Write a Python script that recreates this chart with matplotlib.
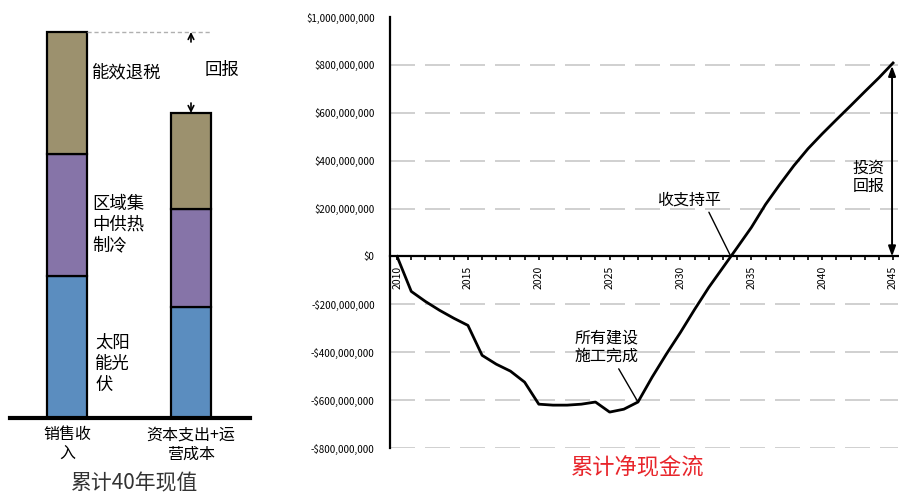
import matplotlib
matplotlib.use("Agg")
import matplotlib.pyplot as plt
from matplotlib.ticker import FuncFormatter, MultipleLocator
import numpy as np

plt.rcParams['font.family'] = ['Noto Sans CJK SC', 'DejaVu Sans']

# left panel: cumulative 40-year present value (relative units)
bar_names = ["销售收\n入", "资本支出+运\n营成本"]
solar = [142, 111]
district = [122, 98]
rebate = [122, 96]
seg_colors = ['#5B8DBF', '#8674A8', '#9C916E']

# right panel: cumulative net cash flow
years = list(range(2010, 2046))
cash = [0, -146e6, -188e6, -225e6, -258e6, -288e6, -413e6, -450e6, -479e6,
        -525e6, -617e6, -621e6, -621e6, -617e6, -608e6, -650e6, -638e6,
        -608e6, -504e6, -408e6, -317e6, -221e6, -129e6, -46e6, 37e6, 121e6,
        217e6, 300e6, 379e6, 450e6, 512e6, 571e6, 629e6, 688e6, 746e6, 808e6]

W, H = 899, 494
fig = plt.figure(figsize=(W / 100, H / 100), dpi=100)

# ---------- left panel ----------
axl = fig.add_axes([10 / W, (H - 418) / H, 240 / W, 398 / H])
x = np.arange(len(bar_names))
bw = 0.33
bottom = np.zeros(2)
for vals, c in zip([solar, district, rebate], seg_colors):
    axl.bar(x, vals, bw, bottom=bottom, color=c, edgecolor='black', linewidth=1.6)
    bottom += np.array(vals)
axl.set_xlim(-0.46, 1.476)
axl.set_ylim(0, 398)
for s in ['left', 'right', 'top']:
    axl.spines[s].set_visible(False)
axl.spines['bottom'].set_linewidth(3)
axl.set_yticks([])
axl.set_xticks(x)
axl.set_xticklabels(bar_names, fontsize=11.5, linespacing=1.15)
axl.tick_params(axis='x', length=0, pad=6)

top1 = bottom[0]
top2 = bottom[1]
axl.plot([x[0] + bw / 2, x[1] + bw / 2], [top1, top1], ls=(0, (3, 2)), color='#b0b0b0', lw=1)
axl.annotate('', xy=(x[1], top1), xytext=(x[1], top1 - 10),
             arrowprops=dict(arrowstyle='->', lw=1.2, color='black', shrinkA=0, shrinkB=0))
axl.annotate('', xy=(x[1], top2), xytext=(x[1], top2 + 10),
             arrowprops=dict(arrowstyle='->', lw=1.2, color='black', shrinkA=0, shrinkB=0))
axl.text(1.11, 348, "回报", fontsize=12.5, va='center', ha='left')
axl.text(0.2, 346, "能效退税", fontsize=12.5, va='center', ha='left')
axl.text(0.2, 193, "区域集\n中供热\n制冷", fontsize=12.5, va='center', ha='left', linespacing=1.2)
axl.text(0.226, 54, "太阳\n能光\n伏", fontsize=12.5, va='center', ha='left', linespacing=1.2)
fig.text(135 / W, 1 - 483 / H, "累计40年现值", fontsize=15, ha='center', va='center', color='#333333')

# ---------- right panel ----------
axr = fig.add_axes([390 / W, (H - 448) / H, 508 / W, 431 / H])
axr.plot(years, cash, color='black', lw=2)
axr.set_xlim(2009.5, 2045.35)
axr.set_ylim(-800e6, 1000e6)
axr.set_yticks(np.arange(-800e6, 1000e6 + 1, 200e6))


def money(v, pos):
    v = int(round(v))
    return ("-$" if v < 0 else "$") + f"{abs(v):,}"


axr.yaxis.set_major_formatter(FuncFormatter(money))
axr.tick_params(axis='y', length=0, pad=11, labelsize=7)
axr.grid(axis='y', ls=(0, (15, 6)), lw=1.2, color='#c8c8c8')
gl = axr.get_ygridlines()
gl[-1].set_visible(False)
gl[4].set_visible(False)
axr.set_axisbelow(True)

axr.spines['top'].set_visible(False)
axr.spines['right'].set_visible(False)
axr.spines['left'].set_linewidth(1.6)
axr.spines['bottom'].set_position(('data', 0))
axr.spines['bottom'].set_linewidth(1.6)
axr.xaxis.set_major_locator(MultipleLocator(5))
axr.xaxis.set_minor_locator(MultipleLocator(1))
axr.xaxis.set_major_formatter(FuncFormatter(lambda v, p: f"{int(v)}"))
axr.tick_params(axis='x', which='both', direction='out', length=3, width=1.2, labelsize=7.5,
                labelrotation=90, pad=4)

be_year = np.interp(0, cash[20:], years[20:])
axr.annotate("收支持平", xy=(be_year, 0), xytext=(2030.6, 237e6), fontsize=11.5,
             ha='center', va='center',
             arrowprops=dict(arrowstyle='-', lw=1, color='black', relpos=(0.78, 0), shrinkA=1, shrinkB=0))
axr.annotate("所有建设\n施工完成", xy=(years[17], cash[17]), xytext=(2024.8, -379e6), fontsize=11.5,
             ha='center', va='center', linespacing=1.1,
             arrowprops=dict(arrowstyle='-', lw=1, color='black', relpos=(0.65, 0), shrinkA=1, shrinkB=0))
axr.annotate('', xy=(2044.93, 0), xytext=(2044.93, cash[-1] - 12e6),
             arrowprops=dict(arrowstyle='<|-|>,head_length=0.6,head_width=0.22', lw=1.4,
                             color='black', shrinkA=0, shrinkB=0))
axr.text(2044.4, 329e6, "投资\n回报", fontsize=11.5, ha='right', va='center', linespacing=1.1)

fig.text(638 / W, 1 - 468 / H, "累计净现金流", fontsize=16, ha='center', va='center', color='#E8252B')

fig.savefig("out.png", dpi=100)
